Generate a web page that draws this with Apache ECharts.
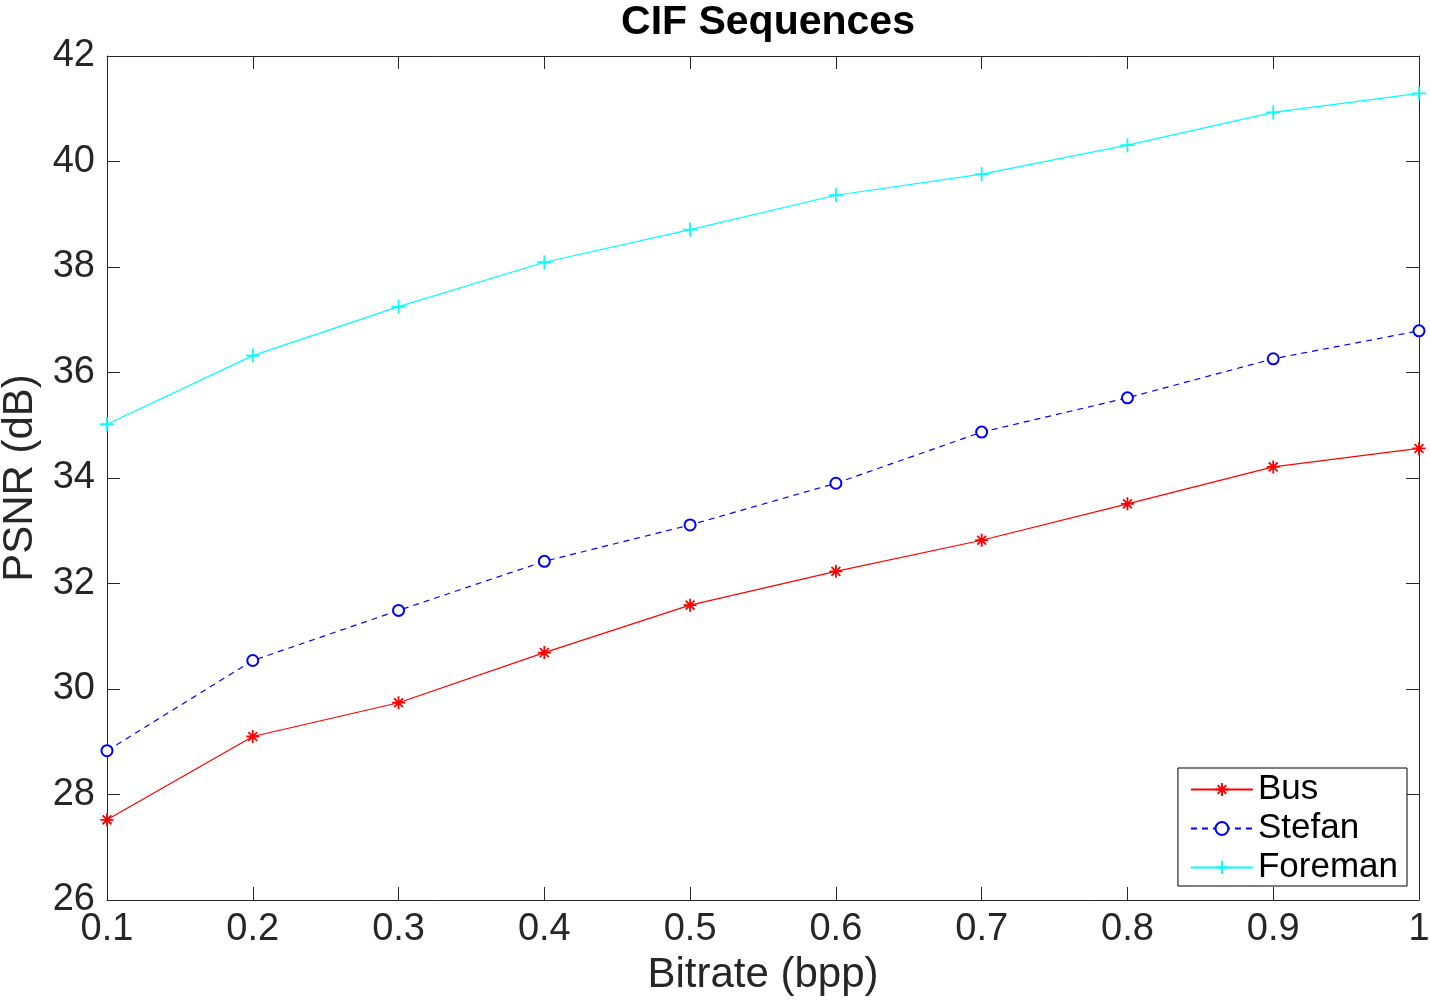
<!DOCTYPE html>
<html>
<head>
<meta charset="utf-8"/>
<title>CIF Sequences</title>
<script src="https://cdn.jsdelivr.net/npm/echarts@6/dist/echarts.min.js"></script>
<style>
  html, body { margin: 0; padding: 0; background: #fff; }
  #main { width: 1430px; height: 1000px; }
</style>
</head>
<body>
<div id="main"></div>
<script type="text/javascript">
// bitrate values (bpp)
var bitrate = [0.1, 0.2, 0.3, 0.4, 0.5, 0.6, 0.7, 0.8, 0.9, 1.0];
// PSNR (dB) per sequence
var bus     = [27.52, 29.10, 29.74, 30.69, 31.59, 32.23, 32.82, 33.51, 34.21, 34.56];
var stefan  = [28.83, 30.54, 31.49, 32.42, 33.11, 33.90, 34.87, 35.52, 36.26, 36.79];
var foreman = [35.02, 36.32, 37.25, 38.09, 38.71, 39.36, 39.76, 40.31, 40.93, 41.29];

var FONT = "'Liberation Sans', Arial, Helvetica, sans-serif";
var AX = '#262626';

function pairs(ys) {
  return bitrate.map(function (x, i) { return [x, ys[i]]; });
}

var asterisk = 'path://M0,5 L10,5 M5,0 L5,10 M1.6,1.6 L8.4,8.4 M1.6,8.4 L8.4,1.6';
var plus = 'path://M0,5 L10,5 M5,0 L5,10';

var myChart = echarts.init(document.getElementById('main'));

var xBase = {
  type: 'value', min: 0.1, max: 1, interval: 0.1,
  axisLine: { show: true, onZero: false, lineStyle: { color: AX, width: 1 } },
  axisTick: { show: true, inside: true, length: 13, lineStyle: { color: AX } },
  splitLine: { show: false }
};
var yBase = {
  type: 'value', min: 26, max: 42, interval: 2,
  axisLine: { show: true, onZero: false, lineStyle: { color: AX, width: 1 } },
  axisTick: { show: true, inside: true, length: 13, lineStyle: { color: AX } },
  splitLine: { show: false }
};

var option = {
  animation: false,
  backgroundColor: '#fff',
  title: {
    text: 'CIF Sequences',
    left: 763, top: -3, textAlign: 'center',
    textStyle: { fontFamily: FONT, fontSize: 41, fontWeight: 'bold', color: '#000' }
  },
  grid: { left: 107, right: 11, top: 56, bottom: 100, containLabel: false, outerBoundsMode: 'none' },
  legend: {
    orient: 'vertical',
    right: 23, bottom: 114,
    itemWidth: 62, itemHeight: 16, itemGap: 4,
    padding: [4, 9, 1, 12],
    borderColor: '#000', borderWidth: 1, backgroundColor: '#fff',
    textStyle: { fontFamily: FONT, fontSize: 35, color: '#000', lineHeight: 34 },
    data: ['Bus', 'Stefan', 'Foreman']
  },
  xAxis: [
    Object.assign({}, xBase, {
      position: 'bottom',
      name: 'Bitrate (bpp)', nameLocation: 'middle', nameGap: 54,
      nameTextStyle: { fontFamily: FONT, fontSize: 42, color: AX },
      axisLabel: {
        fontFamily: FONT, fontSize: 38, color: AX, margin: 11,
        formatter: function (v) { return String(+v.toFixed(1)); }
      }
    }),
    Object.assign({}, xBase, { position: 'top', axisLabel: { show: false } })
  ],
  yAxis: [
    Object.assign({}, yBase, {
      position: 'left',
      name: 'PSNR (dB)', nameLocation: 'middle', nameGap: 66,
      nameTextStyle: { fontFamily: FONT, fontSize: 42, color: AX },
      axisLabel: { fontFamily: FONT, fontSize: 38, color: AX, margin: 12 }
    }),
    Object.assign({}, yBase, { position: 'right', axisLabel: { show: false } })
  ],
  series: [
    {
      name: 'Bus', type: 'line', data: pairs(bus),
      symbol: asterisk, symbolSize: 13,
      lineStyle: { color: '#ff0000', width: 1.2 },
      itemStyle: { color: '#ff0000', borderColor: '#ff0000', borderWidth: 1.8 }
    },
    {
      name: 'Stefan', type: 'line', data: pairs(stefan),
      symbol: 'emptyCircle', symbolSize: 11,
      lineStyle: { color: '#0000ff', width: 1.2, type: [6, 5] },
      itemStyle: { color: '#0000ff', borderColor: '#0000ff', borderWidth: 1.8 }
    },
    {
      name: 'Foreman', type: 'line', data: pairs(foreman),
      symbol: plus, symbolSize: 14,
      lineStyle: { color: '#00ffff', width: 1.2 },
      itemStyle: { color: '#00ffff', borderColor: '#00ffff', borderWidth: 1.8 }
    }
  ]
};

myChart.setOption(option);
</script>
</body>
</html>
